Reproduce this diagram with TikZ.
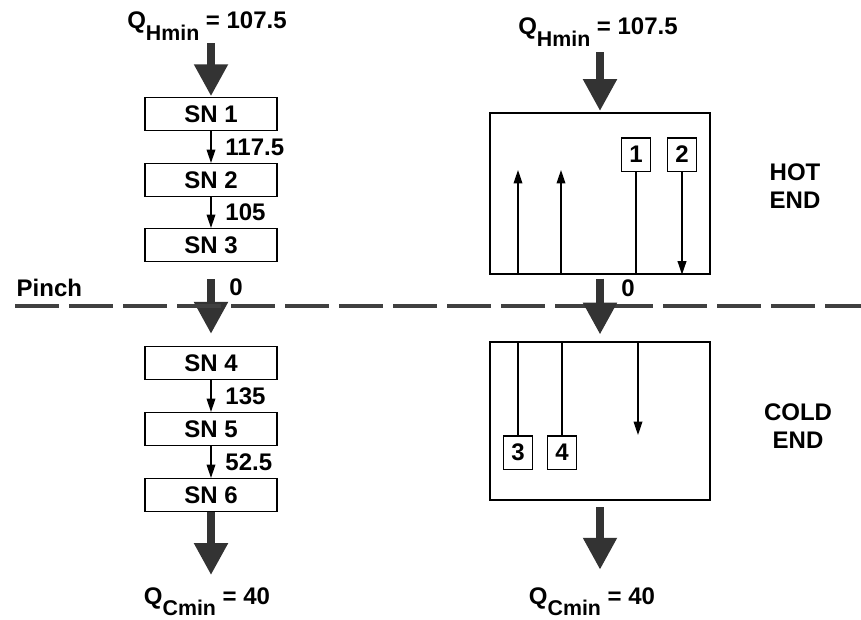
\documentclass[tikz,border=0pt]{standalone}
\usepackage{fontspec}
\setmainfont{Liberation Sans}
\usepackage{xcolor}
\usetikzlibrary{arrows.meta,positioning,calc}

\newcommand{\qlbl}[2]{Q\raisebox{-0.9ex}{\fontsize{16}{18}\selectfont #1} = #2}

\begin{document}
\begin{tikzpicture}[x=0.75pt,y=-0.75pt,
  every node/.style={font=\fontsize{18}{21}\selectfont\bfseries},
  snbox/.style={draw,line width=1.1pt,minimum width=99pt,minimum height=24.5pt,inner sep=0pt},
  endbox/.style={draw,line width=1.1pt,minimum width=165pt,inner sep=0pt},
  strbox/.style={draw,line width=1pt,minimum width=21.5pt,minimum height=25pt,inner sep=0pt},
  bigarrow/.style={draw=black!80,line width=6.5pt,-{Triangle[width=24pt,length=24pt]}},
  flowarrow/.style={line width=1pt,-{Triangle[width=6.5pt,length=10pt]}},
  pinchline/.style={draw=black!75,line width=3pt,dash pattern=on 33pt off 7.5pt}]
\useasboundingbox (0,0) rectangle (861,619);

% Cascade of subnetworks
\node (qh1) at (207,26) {\qlbl{Hmin}{107.5}};
\node[snbox] (sn1) at (211,114) {SN 1};
\node[snbox] (sn2) at (211,180) {SN 2};
\node[snbox] (sn3) at (211,245) {SN 3};
\node[snbox] (sn4) at (211,363) {SN 4};
\node[snbox] (sn5) at (211,429) {SN 5};
\node[snbox] (sn6) at (211,495) {SN 6};
\node (qc1) at (207,602) {\qlbl{Cmin}{40}};

\draw[bigarrow,shorten <=-1pt,shorten >=0.5pt] (sn1.north |- qh1.south) -- (sn1.north);
\draw[flowarrow] (sn1.south) -- node[right,xshift=7pt] {117.5} (sn2.north);
\draw[flowarrow] (sn2.south) -- node[right,xshift=7pt] {105} (sn3.north);
\draw[bigarrow,shorten <=13pt,shorten >=9pt] (sn3.south) -- (sn4.north);
\draw[flowarrow] (sn4.south) -- node[right,xshift=7pt] {135} (sn5.north);
\draw[flowarrow] (sn5.south) -- node[right,xshift=7pt] {52.5} (sn6.north);
\draw[bigarrow,shorten >=6pt] (sn6.south) -- (sn6.south |- qc1.north);
\node (z1) at (236,287) {0};

% Pinch
\node[anchor=west] (pinch) at (12,288) {Pinch};
\coordinate (pl) at (15,306);
\coordinate (pr) at (861,306);
\draw[pinchline] (pl) -- (pr);

% Grid diagram, hot end
\node (qh2) at (598,32) {\qlbl{Hmin}{107.5}};
\node[endbox,minimum height=120.5pt] (hot) at (600,193.5) {};
\node[strbox] (s1) at (636,154.5) {1};
\node[strbox] (s2) at (682,154.5) {2};
\draw[bigarrow,shorten <=1pt,shorten >=1pt] (hot.north |- qh2.south) -- (hot.north);
\draw[line width=1pt] (s1.south) -- (s1.south |- hot.south);
\draw[flowarrow] (s2.south) -- (s2.south |- hot.south);
\coordinate (c3) at (518,170);
\coordinate (c4) at (561,170);
\draw[flowarrow] (c3 |- hot.south) -- (c3);
\draw[flowarrow] (c4 |- hot.south) -- (c4);
\node[align=center] (hotend) at (795,186) {HOT\\END};

% Grid diagram, cold end
\node[endbox,minimum height=118.5pt] (cold) at (600,421) {};
\draw[bigarrow,shorten <=3pt,shorten >=5pt] (hot.south) -- (cold.north);
\node (z2) at (628,288) {0};
\node[strbox] (s3) at (518,452.5) {3};
\node[strbox] (s4) at (562,452.5) {4};
\draw[line width=1pt] (s3.north |- cold.north) -- (s3.north);
\draw[line width=1pt] (s4.north |- cold.north) -- (s4.north);
\coordinate (c1) at (638,435);
\draw[flowarrow] (c1 |- cold.north) -- (c1);
\node[align=center] (coldend) at (798,426) {COLD\\END};
\node (qc2) at (592,602) {\qlbl{Cmin}{40}};
\draw[bigarrow,shorten <=5pt,shorten >=10pt] (cold.south) -- (cold.south |- qc2.north);
\end{tikzpicture}
\end{document}
